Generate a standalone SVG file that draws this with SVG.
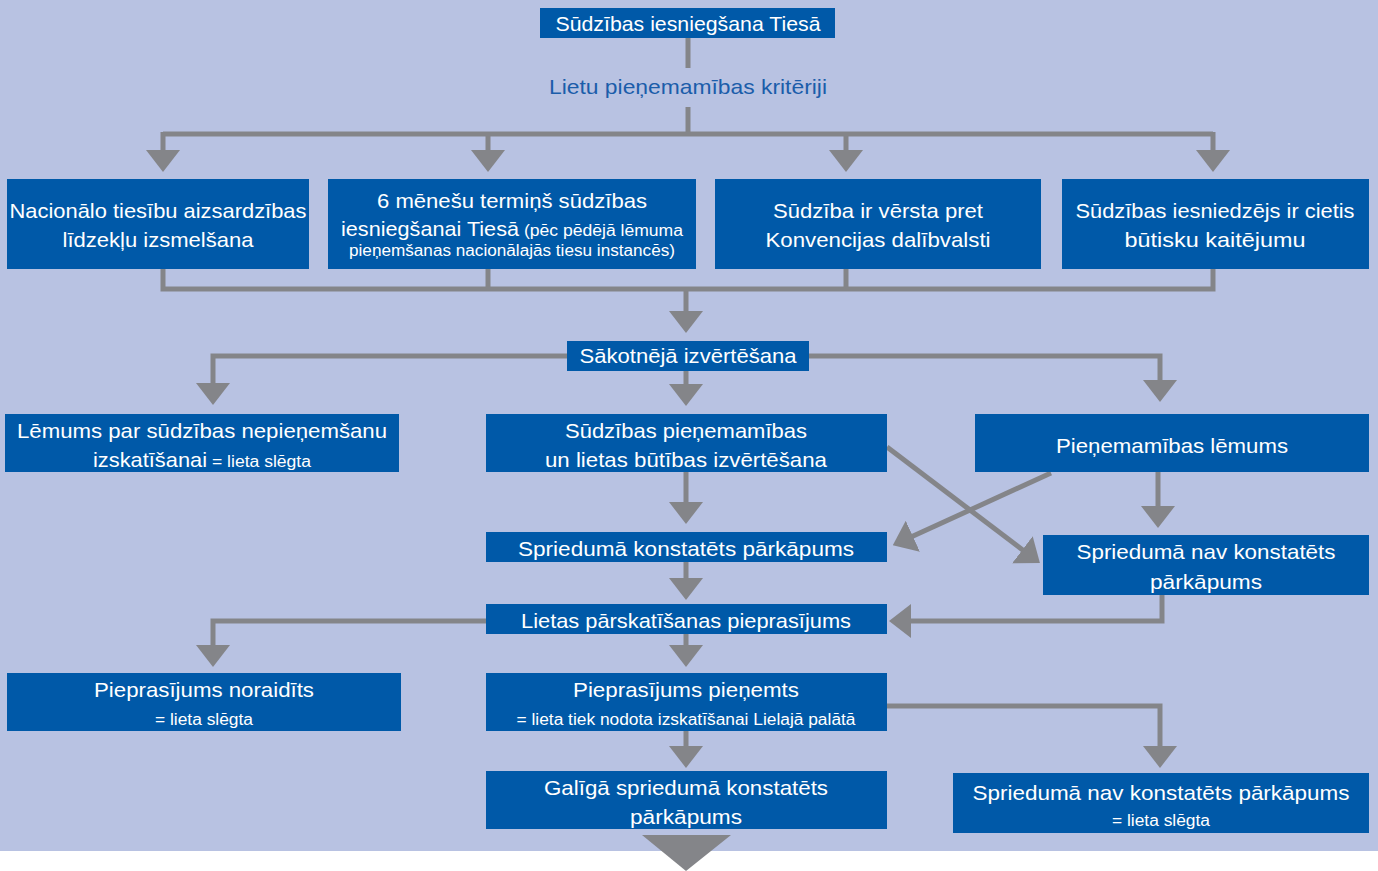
<svg xmlns="http://www.w3.org/2000/svg" width="1378" height="871" viewBox="0 0 1378 871">
<style>
.box{fill:#0059A8}
.t{font-family:"Liberation Sans",Arial,sans-serif;font-size:21px;fill:#ffffff;text-anchor:middle}
.s{font-family:"Liberation Sans",Arial,sans-serif;font-size:16px;fill:#ffffff}
.st{text-anchor:start}
.lbl{font-family:"Liberation Sans",Arial,sans-serif;font-size:21px;fill:#1B5DAA;text-anchor:middle}
.c{fill:none;stroke:#848589;stroke-width:5}
.a{marker-end:url(#ah)}
</style>
<defs>
<marker id="ah" markerUnits="userSpaceOnUse" markerWidth="22" markerHeight="34" viewBox="0 0 22 34" refX="2" refY="17" orient="auto">
<path d="M0,0 L22,17 L0,34 z" fill="#848589"/>
</marker>
</defs>
<rect x="0" y="0" width="1378" height="851" fill="#B8C2E2"/>

<g id="connectors">
<path class="c" d="M688,38 V68"/>
<path class="c" d="M688,107 V134 M163,134 H1213"/>
<path class="c a" d="M163,132 V152"/>
<path class="c a" d="M488,132 V152"/>
<path class="c a" d="M846,132 V152"/>
<path class="c a" d="M1213,132 V152"/>
<path class="c" d="M163,269 V289 H1213 V269 M488,269 V289 M846,269 V289"/>
<path class="c a" d="M686,287 V313"/>
<path class="c a" d="M567,356 H213 V385"/>
<path class="c a" d="M809,356 H1160 V382"/>
<path class="c a" d="M686,371 V386"/>
<path class="c a" d="M686,472 V504"/>
<path class="c a" d="M887,447 L1024,551"/>
<path class="c a" d="M1051,473 L911,537"/>
<path class="c a" d="M1158,472 V508"/>
<path class="c a" d="M686,562 V580"/>
<path class="c a" d="M1162,595 V621 H909"/>
<path class="c a" d="M486,621 H213 V647"/>
<path class="c a" d="M686,634 V647"/>
<path class="c a" d="M887,706 H1160 V748"/>
<path class="c a" d="M686,731 V748"/>
<polygon points="642,835 731,835 686,871" fill="#848589"/>
</g>

<g id="n-submit">
<rect class="box" x="540" y="8" width="295" height="30"/>
<text class="t" x="688" y="31" textLength="265" lengthAdjust="spacingAndGlyphs">Sūdzības iesniegšana Tiesā</text>
</g>
<g id="label-criteria">
<text class="lbl" x="688" y="94" textLength="278" lengthAdjust="spacingAndGlyphs">Lietu pieņemamības kritēriji</text>
</g>

<g id="n-national">
<rect class="box" x="7" y="179" width="302" height="90"/>
<text class="t" x="158" y="218" textLength="297" lengthAdjust="spacingAndGlyphs">Nacionālo tiesību aizsardzības</text>
<text class="t" x="158" y="247" textLength="191" lengthAdjust="spacingAndGlyphs">līdzekļu izsmelšana</text>
</g>
<g id="n-six-months">
<rect class="box" x="328" y="179" width="368" height="90"/>
<text class="t" x="512" y="208" textLength="270" lengthAdjust="spacingAndGlyphs">6 mēnešu termiņš sūdzības</text>
<text class="t st" x="341" y="236" textLength="178" lengthAdjust="spacingAndGlyphs">iesniegšanai Tiesā</text>
<text class="s st" x="524" y="236" textLength="159" lengthAdjust="spacingAndGlyphs">(pēc pēdējā lēmuma</text>
<text class="s" x="512" y="256" text-anchor="middle" textLength="326" lengthAdjust="spacingAndGlyphs">pieņemšanas nacionālajās tiesu instancēs)</text>
</g>
<g id="n-state">
<rect class="box" x="715" y="179" width="326" height="90"/>
<text class="t" x="878" y="218" textLength="210" lengthAdjust="spacingAndGlyphs">Sūdzība ir vērsta pret</text>
<text class="t" x="878" y="247" textLength="225" lengthAdjust="spacingAndGlyphs">Konvencijas dalībvalsti</text>
</g>
<g id="n-damage">
<rect class="box" x="1062" y="179" width="307" height="90"/>
<text class="t" x="1215" y="218" textLength="279" lengthAdjust="spacingAndGlyphs">Sūdzības iesniedzējs ir cietis</text>
<text class="t" x="1215" y="247" textLength="181" lengthAdjust="spacingAndGlyphs">būtisku kaitējumu</text>
</g>

<g id="n-initial">
<rect class="box" x="567" y="341" width="242" height="30"/>
<text class="t" x="688" y="363" textLength="217" lengthAdjust="spacingAndGlyphs">Sākotnējā izvērtēšana</text>
</g>

<g id="n-inadmissible">
<rect class="box" x="5" y="414" width="394" height="58"/>
<text class="t" x="202" y="438" textLength="370" lengthAdjust="spacingAndGlyphs">Lēmums par sūdzības nepieņemšanu</text>
<text class="t st" x="93" y="467" textLength="114" lengthAdjust="spacingAndGlyphs">izskatīšanai</text>
<text class="s st" x="212" y="467" textLength="99" lengthAdjust="spacingAndGlyphs">= lieta slēgta</text>
</g>
<g id="n-admissibility-merits">
<rect class="box" x="486" y="414" width="401" height="58"/>
<text class="t" x="686" y="438" textLength="242" lengthAdjust="spacingAndGlyphs">Sūdzības pieņemamības</text>
<text class="t" x="686" y="467" textLength="282" lengthAdjust="spacingAndGlyphs">un lietas būtības izvērtēšana</text>
</g>
<g id="n-admissibility-decision">
<rect class="box" x="975" y="414" width="394" height="58"/>
<text class="t" x="1172" y="453" textLength="232" lengthAdjust="spacingAndGlyphs">Pieņemamības lēmums</text>
</g>

<g id="n-violation">
<rect class="box" x="486" y="532" width="401" height="30"/>
<text class="t" x="686" y="556" textLength="336" lengthAdjust="spacingAndGlyphs">Spriedumā konstatēts pārkāpums</text>
</g>
<g id="n-no-violation">
<rect class="box" x="1043" y="535" width="326" height="60"/>
<text class="t" x="1206" y="559" textLength="259" lengthAdjust="spacingAndGlyphs">Spriedumā nav konstatēts</text>
<text class="t" x="1206" y="589" textLength="112" lengthAdjust="spacingAndGlyphs">pārkāpums</text>
</g>

<g id="n-referral">
<rect class="box" x="486" y="604" width="401" height="30"/>
<text class="t" x="686" y="628" textLength="330" lengthAdjust="spacingAndGlyphs">Lietas pārskatīšanas pieprasījums</text>
</g>

<g id="n-rejected">
<rect class="box" x="7" y="673" width="394" height="58"/>
<text class="t" x="204" y="697" textLength="220" lengthAdjust="spacingAndGlyphs">Pieprasījums noraidīts</text>
<text class="s" x="204" y="725" text-anchor="middle" textLength="98" lengthAdjust="spacingAndGlyphs">= lieta slēgta</text>
</g>
<g id="n-accepted">
<rect class="box" x="486" y="673" width="401" height="58"/>
<text class="t" x="686" y="697" textLength="226" lengthAdjust="spacingAndGlyphs">Pieprasījums pieņemts</text>
<text class="s" x="686" y="725" text-anchor="middle" textLength="339" lengthAdjust="spacingAndGlyphs">= lieta tiek nodota izskatīšanai Lielajā palātā</text>
</g>

<g id="n-final-violation">
<rect class="box" x="486" y="771" width="401" height="58"/>
<text class="t" x="686" y="795" textLength="284" lengthAdjust="spacingAndGlyphs">Galīgā spriedumā konstatēts</text>
<text class="t" x="686" y="824" textLength="112" lengthAdjust="spacingAndGlyphs">pārkāpums</text>
</g>
<g id="n-final-no-violation">
<rect class="box" x="953" y="773" width="416" height="60"/>
<text class="t" x="1161" y="800" textLength="377" lengthAdjust="spacingAndGlyphs">Spriedumā nav konstatēts pārkāpums</text>
<text class="s" x="1161" y="826" text-anchor="middle" textLength="98" lengthAdjust="spacingAndGlyphs">= lieta slēgta</text>
</g>
</svg>
